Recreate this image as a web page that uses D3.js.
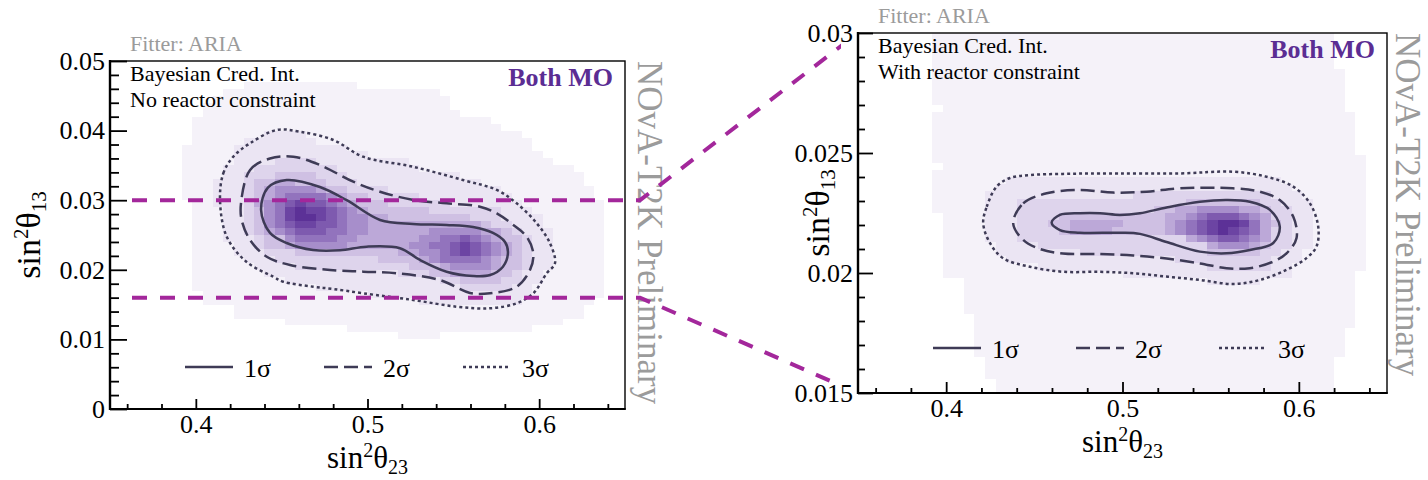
<!DOCTYPE html>
<html>
<head>
<meta charset="utf-8">
<script src="https://cdn.jsdelivr.net/npm/d3@7"></script>
<style>
  html, body { margin: 0; padding: 0; background: #fff; overflow: hidden; }
  svg { display: block; }
  text { font-family: "Liberation Serif", "Times New Roman", serif; }
</style>
</head>
<body>
<svg id="chart" width="1428" height="480"></svg>
<script>
// ---------------- axis values ----------------
const theta23Range = [0.35, 0.65];
const theta23Ticks = [0.4, 0.5, 0.6];
const theta23TickLabels = ["0.4", "0.5", "0.6"];

const theta13RangeFree = [0, 0.05];
const theta13TicksFree = [0, 0.01, 0.02, 0.03, 0.04, 0.05];
const theta13TickLabelsFree = ["0", "0.01", "0.02", "0.03", "0.04", "0.05"];

const theta13RangeReactor = [0.015, 0.03];
const theta13TicksReactor = [0.015, 0.02, 0.025, 0.03];
const theta13TickLabelsReactor = ["0.015", "0.02", "0.025", "0.03"];

// reactor sin^2(theta13) window marked on the unconstrained panel
const reactorBand = [0.016, 0.03];

// histogram binning
const binW23 = 0.006;
const binW13Free = 0.001;
const binW13Reactor = 0.0003;

// posterior density per bin, 0 = lowest populated ... 9 = highest, "." = empty.
// one string per sin^2(theta13) bin, top row first; one character per sin^2(theta23) bin
const densityFree = [
  ".......... .......... .......... .......... ..........",
  ".......... .......... .......... .......... ..........",
  ".......... .......... .......... .......... ..........",
  ".......... ...0000000 0000...... .......... ..........",
  ".......... .000000000 0000000000 00........ ..........",
  ".......... 0000000000 0000000000 000....... ..........",
  ".........0 0000000000 0000000000 000....... ..........",
  ".........0 0000000000 0000000000 0000...... ..........",
  "........00 0000000000 0000000000 0000000... ..........",
  "........00 0000000000 0000000000 00000000.. ..........",
  "........00 0000011110 0000000000 0000000000 ..........",
  "........00 0001111111 0000000000 0000000000 0.........",
  ".......000 0011111111 1110000000 0000000000 0.........",
  ".......000 0011111111 1111100000 0000000000 00........",
  ".......000 0011112222 1111111110 0000000000 000.......",
  ".......000 0111222222 2211111111 0000000000 00000.....",
  ".......000 0112223333 2221111111 1111000000 000000....",
  ".......000 1112334433 3222111111 1111110000 000000....",
  ".......000 1112345555 4332222111 1111111100 0000000...",
  ".......000 1112345666 6543322222 1111111110 0000000...",
  "........00 1112456787 7654333222 2221111111 00000000..",
  "........00 0112356898 8765433333 3222222211 10000000..",
  "........00 0112356899 8765544333 3333322211 11000000..",
  "........00 0112356788 7765544444 4444443221 11000000..",
  "........00 0112345677 7665544444 4555554432 11100000..",
  "........00 0111233566 6655444444 5566765433 21100000..",
  "........00 0011233455 5554444445 5667876543 21100000..",
  "........00 0011122233 3333333344 5567876543 21100000..",
  "........00 0001112222 2222223333 4566665433 21100000..",
  "........00 0000111122 2222222223 3345555433 21100000..",
  "........00 0000011111 1111111122 2334444332 11000000..",
  "........00 0000000111 1111111111 1122333322 11000000..",
  "........00 0000000000 1111111111 1111222221 10000000..",
  ".........0 0000000000 0000011111 1111111111 10000000..",
  ".........0 0000000000 0000000000 1111111111 0000000...",
  ".......... ..00000000 0000000000 0000000000 000000....",
  ".......... ..00000000 0000000000 0000000000 000000....",
  ".......... .......000 0000000000 0000000000 0000......",
  ".......... .......... ...0000000 0000000000 0.........",
  ".......... .......... ........00 00........ ..........",
  ".......... .......... .......... .......... ..........",
  ".......... .......... .......... .......... ..........",
  ".......... .......... .......... .......... ..........",
  ".......... .......... .......... .......... ..........",
  ".......... .......... .......... .......... ..........",
  ".......... .......... .......... .......... ..........",
  ".......... .......... .......... .......... ..........",
  ".......... .......... .......... .......... ..........",
  ".......... .......... .......... .......... ..........",
  ".......... .......... .......... .......... .........."
];

const densityReactor = [
  ".......000 0000000000 0000000000 0000000000 00000.....",
  ".......000 0000000000 0000000000 0000000000 00000.....",
  ".......000 0000000000 0000000000 0000000000 00000.....",
  ".......000 0000000000 0000000000 0000000000 00000.....",
  ".......000 0000000000 0000000000 0000000000 00000.....",
  ".......000 0000000000 0000000000 0000000000 000000....",
  ".......000 0000000000 0000000000 0000000000 000000....",
  ".......000 0000000000 0000000000 0000000000 000000....",
  ".......000 0000000000 0000000000 0000000000 000000....",
  ".......000 0000000000 0000000000 0000000000 000000....",
  "........00 0000000000 0000000000 0000000000 000000....",
  ".......000 0000000000 0000000000 0000000000 0000000...",
  ".......000 0000000000 0000000000 0000000000 0000000...",
  ".......000 0000000000 0000000000 0000000000 0000000...",
  ".......000 0000000000 0000000000 0000000000 0000000...",
  ".......000 0000000000 0000000000 0000000000 0000000...",
  ".......000 0000000000 0000000000 0000000000 0000000...",
  ".......000 0000000000 0000000000 0000000000 00000000..",
  "........00 0000000000 0000000000 0000000000 00000000..",
  ".......000 0000000000 0000000000 0000000000 00000000..",
  ".......000 0000111111 1111111111 1111111111 00000000..",
  ".......000 0001111111 1111111111 1111111111 10000000..",
  ".......000 0011111111 1111112222 2222222221 11000000..",
  ".......000 0011122222 2222222222 2333333322 11100000..",
  ".......000 0011122222 2222222233 4455554432 21100000..",
  "........00 0011122223 3333333334 4567776542 21100000..",
  "........00 0011122233 4444433334 5678998643 21100000..",
  "........00 0011122223 4444333334 5678987642 21100000..",
  "........00 0011122222 2222222222 2456776542 21100000..",
  "........00 0001111222 2222222222 2224555432 21100000..",
  "........00 0001111111 1222222222 2223333322 11000000..",
  "........00 0000111111 1111111111 2222222221 11000000..",
  "........00 0000000111 1111111111 1112222221 10000000..",
  "........00 0000000000 0000011111 1111111111 1000000...",
  ".......... 0000000000 0000000000 0001111100 0000000...",
  ".......... 0000000000 0000000000 0000000000 0000000...",
  ".......... 0000000000 0000000000 0000000000 0000000...",
  ".......... 0000000000 0000000000 0000000000 0000000...",
  ".......... 0000000000 0000000000 0000000000 0000000...",
  ".......... .000000000 0000000000 0000000000 0000000...",
  ".......... .000000000 0000000000 0000000000 0000000...",
  ".......... .000000000 0000000000 0000000000 000000....",
  ".......... .000000000 0000000000 0000000000 000000....",
  ".......... .000000000 0000000000 0000000000 000000....",
  ".......... .000000000 0000000000 0000000000 000000....",
  ".......... ..00000000 0000000000 0000000000 00000.....",
  ".......... ..00000000 0000000000 0000000000 00000.....",
  ".......... ..00000000 0000000000 0000000000 00000.....",
  ".......... ...0000000 0000000000 0000000000 00000.....",
  ".......... ...0000000 0000000000 0000000000 00000....."
];

// credible-region boundaries, [sin^2(theta23), sin^2(theta13)]
const free1sigma = [[0.438,0.0286],[0.4432,0.0253],[0.4529,0.02385],[0.4683,0.02284],[0.484,0.0228],[0.4995,0.02332],[0.5189,0.0231],[0.5306,0.02141],[0.5461,0.01973],[0.5615,0.01911],[0.5714,0.01925],[0.5789,0.02045],[0.5818,0.02241],[0.5801,0.0240],[0.5731,0.0253],[0.5615,0.02615],[0.5461,0.02644],[0.5265,0.02658],[0.5073,0.02716],[0.4879,0.0300],[0.4723,0.0319],[0.4529,0.0329],[0.442,0.0318]];
const free2sigma = [[0.4263,0.02955],[0.4316,0.03434],[0.4432,0.0360],[0.4568,0.03625],[0.4723,0.03506],[0.4917,0.03266],[0.5073,0.03122],[0.5267,0.03003],[0.5461,0.02955],[0.5655,0.02907],[0.5753,0.02812],[0.5849,0.02644],[0.5927,0.02476],[0.5966,0.02237],[0.5947,0.0200],[0.5869,0.01757],[0.5714,0.01662],[0.5597,0.01667],[0.5422,0.01853],[0.517,0.0195],[0.4976,0.01973],[0.4782,0.01997],[0.4549,0.02069],[0.4413,0.02188],[0.4316,0.02428],[0.4267,0.02716]];
const free3sigma = [[0.4141,0.0300],[0.416,0.03387],[0.4218,0.03625],[0.4316,0.03818],[0.4471,0.04009],[0.4607,0.03984],[0.4801,0.03865],[0.4974,0.03625],[0.5265,0.03481],[0.5556,0.0329],[0.5753,0.03147],[0.5869,0.02955],[0.5986,0.02668],[0.6063,0.02381],[0.6092,0.02093],[0.6044,0.0195],[0.5966,0.01662],[0.5869,0.01519],[0.5714,0.01447],[0.552,0.0147],[0.5267,0.01566],[0.4976,0.01662],[0.4801,0.01724],[0.4684,0.01757],[0.4509,0.01829],[0.4451,0.01901],[0.4296,0.02112],[0.418,0.02476]];

const reactor1sigma = [[0.4598,0.0221],[0.4645,0.02242],[0.4758,0.02249],[0.4872,0.02249],[0.4985,0.02242],[0.5099,0.02249],[0.525,0.02273],[0.5439,0.02297],[0.559,0.02304],[0.5722,0.02297],[0.5836,0.02263],[0.5892,0.02193],[0.5855,0.02125],[0.5722,0.02096],[0.559,0.02082],[0.5439,0.02089],[0.525,0.02129],[0.5099,0.02163],[0.4985,0.02168],[0.4758,0.02168],[0.4645,0.02179]];
const reactor2sigma = [[0.438,0.02207],[0.4437,0.0229],[0.457,0.02332],[0.4759,0.02346],[0.4947,0.02335],[0.5137,0.02339],[0.5325,0.02353],[0.5626,0.02353],[0.5779,0.02339],[0.5892,0.02304],[0.5968,0.02235],[0.5987,0.02146],[0.593,0.02082],[0.5854,0.02047],[0.5722,0.0202],[0.559,0.0202],[0.5439,0.0204],[0.525,0.0206],[0.5061,0.02073],[0.4872,0.02079],[0.4662,0.02081],[0.4532,0.021],[0.4437,0.02138]];
const reactor3sigma = [[0.421,0.02207],[0.423,0.02276],[0.4286,0.0236],[0.4362,0.02396],[0.4475,0.02408],[0.4664,0.02413],[0.4872,0.02415],[0.5325,0.02415],[0.5628,0.02422],[0.5817,0.02401],[0.5968,0.0236],[0.6063,0.0229],[0.611,0.02193],[0.61,0.0211],[0.6043,0.02062],[0.593,0.02013],[0.5779,0.01971],[0.5628,0.01954],[0.5439,0.01971],[0.525,0.01985],[0.5061,0.01999],[0.4872,0.02005],[0.4664,0.02005],[0.4475,0.02026],[0.4324,0.02061],[0.4249,0.02124]];

const sigmaLabels = ["1σ", "2σ", "3σ"];

// ---------------- styling ----------------
const densityPalette = ["#f5f2f9","#ebe5f3","#ded4ec","#cfc0e3","#bca8d8","#a78ecb","#9273bd","#7e5aaf","#6c44a3","#5c3197"];
const contourColor = "#3e3b56";
const contourDash = [null, "14,6", "3,3"];
const bandColor = "#a3279b";
const greyText = "#9b9b9b";
const moColor = "#5b2d93";

const colour = d3.scaleLinear().domain(d3.range(densityPalette.length)).range(densityPalette);

const panels = [
  {
    frame: { x0: 110, x1: 625, y0: 61, y1: 409 },
    yDomain: theta13RangeFree, yTicks: theta13TicksFree, yTickLabels: theta13TickLabelsFree,
    yMinorStep: 0.002, binH: binW13Free, density: densityFree,
    contours: [free1sigma, free2sigma, free3sigma],
    note: "No reactor constraint",
    yMajor: 17, yMinor: 9, xMajor: 10, xMinor: 5,
    yTitleX: 40, labelDx: 13, legendDy: 42, legendStep: 139
  },
  {
    frame: { x0: 858, x1: 1387, y0: 33, y1: 393 },
    yDomain: theta13RangeReactor, yTicks: theta13TicksReactor, yTickLabels: theta13TickLabelsReactor,
    yMinorStep: 0.001, binH: binW13Reactor, density: densityReactor,
    contours: [reactor1sigma, reactor2sigma, reactor3sigma],
    note: "With reactor constraint",
    yMajor: 15, yMinor: 7, xMajor: 11, xMinor: 5,
    yTitleX: 829, labelDx: 9, legendDy: 45, legendStep: 143
  }
];

const svg = d3.select("#chart");
const defs = svg.append("defs");

// "sin²θ" with a subscript, built from tspans
function thetaTitle(sel, sub, size) {
  const small = Math.round(size * 0.63);
  sel.append("tspan").text("sin");
  sel.append("tspan").attr("font-size", small).attr("dy", -size * 0.36).text("2");
  sel.append("tspan").attr("dy", size * 0.36).text("θ");
  sel.append("tspan").attr("font-size", small).attr("dy", size * 0.19).text(sub);
}

panels.forEach((p, pi) => {
  const f = p.frame;
  p.x = d3.scaleLinear().domain(theta23Range).range([f.x0, f.x1]);
  p.y = d3.scaleLinear().domain(p.yDomain).range([f.y1, f.y0]);
  const x = p.x, y = p.y;

  const clipId = "frame-clip-" + pi;
  defs.append("clipPath").attr("id", clipId)
    .append("rect").attr("x", f.x0).attr("y", f.y0)
    .attr("width", f.x1 - f.x0).attr("height", f.y1 - f.y0);

  const g = svg.append("g");
  const plot = g.append("g").attr("clip-path", `url(#${clipId})`);

  // 2D posterior histogram
  const nRows = p.density.length;
  const cells = [];
  p.density.forEach((row, r) => {
    const codes = row.replace(/ /g, "");
    const j = nRows - 1 - r;
    for (let i = 0; i < codes.length; i++) {
      if (codes[i] === ".") continue;
      cells.push({
        x0: theta23Range[0] + i * binW23, x1: theta23Range[0] + (i + 1) * binW23,
        y0: p.yDomain[0] + j * p.binH, y1: p.yDomain[0] + (j + 1) * p.binH,
        v: +codes[i]
      });
    }
  });
  plot.append("g").selectAll("rect").data(cells).join("rect")
    .attr("x", d => Math.round(x(d.x0)))
    .attr("y", d => Math.round(y(d.y1)))
    .attr("width", d => Math.round(x(d.x1)) - Math.round(x(d.x0)))
    .attr("height", d => Math.round(y(d.y0)) - Math.round(y(d.y1)))
    .attr("fill", d => colour(d.v))
    .attr("shape-rendering", "crispEdges");

  // credible-region contours
  const line = d3.line().x(d => x(d[0])).y(d => y(d[1])).curve(d3.curveCatmullRomClosed.alpha(0.5));
  plot.append("g").selectAll("path").data(p.contours).join("path")
    .attr("d", d => line(d))
    .attr("fill", "none")
    .attr("stroke", contourColor)
    .attr("stroke-width", 2.5)
    .attr("stroke-dasharray", (d, k) => contourDash[k]);

  // frame
  g.append("rect").attr("x", f.x0).attr("y", f.y0)
    .attr("width", f.x1 - f.x0).attr("height", f.y1 - f.y0)
    .attr("fill", "none").attr("stroke", "#000").attr("stroke-width", 1.4);

  // x axis: minor then major ticks
  const xMinorTicks = d3.range(0.36, 0.649, 0.02).filter(v => !theta23Ticks.some(t => Math.abs(t - v) < 1e-6));
  g.append("g").attr("transform", `translate(0,${f.y1})`)
    .call(d3.axisBottom(x).tickValues(xMinorTicks).tickFormat("").tickSize(-p.xMinor).tickSizeOuter(0))
    .call(a => a.select(".domain").remove());
  g.append("g").attr("transform", `translate(0,${f.y1})`)
    .call(d3.axisBottom(x).tickValues(theta23Ticks).tickFormat((d, i) => theta23TickLabels[i])
      .tickSize(-p.xMajor).tickPadding(5.5).tickSizeOuter(0))
    .call(a => a.select(".domain").remove())
    .call(a => a.selectAll("text").attr("font-family", "Liberation Serif").attr("font-size", 26).attr("fill", "#000"));

  // y axis
  const nMinor = Math.round((p.yDomain[1] - p.yDomain[0]) / p.yMinorStep);
  const yMinorTicks = d3.range(nMinor + 1).map(k => p.yDomain[0] + k * p.yMinorStep)
    .filter(v => !p.yTicks.some(t => Math.abs(t - v) < 1e-9));
  g.append("g").attr("transform", `translate(${f.x0},0)`)
    .call(d3.axisLeft(y).tickValues(yMinorTicks).tickFormat("").tickSize(-p.yMinor).tickSizeOuter(0))
    .call(a => a.select(".domain").remove());
  g.append("g").attr("transform", `translate(${f.x0},0)`)
    .call(d3.axisLeft(y).tickValues(p.yTicks).tickFormat((d, i) => p.yTickLabels[i])
      .tickSize(-p.yMajor).tickPadding(5).tickSizeOuter(0))
    .call(a => a.select(".domain").remove())
    .call(a => a.selectAll("text").attr("font-family", "Liberation Serif").attr("font-size", 26).attr("fill", "#000"));

  g.selectAll(".tick line").attr("stroke", "#000").attr("stroke-width", 1.8);

  // heavier axis lines
  g.append("line").attr("x1", f.x0).attr("x2", f.x0).attr("y1", f.y0 - 1).attr("y2", f.y1 + 1)
    .attr("stroke", "#000").attr("stroke-width", 2.4);
  g.append("line").attr("x1", f.x0 - 1).attr("x2", f.x1 + 0.7).attr("y1", f.y1).attr("y2", f.y1)
    .attr("stroke", "#000").attr("stroke-width", 2.2);

  // axis titles
  g.append("text").attr("x", x(0.5)).attr("y", f.y1 + 59)
    .attr("text-anchor", "middle").attr("font-size", 31).attr("fill", "#000")
    .call(t => thetaTitle(t, "23", 31));
  g.append("text")
    .attr("transform", `translate(${p.yTitleX},${(f.y0 + f.y1) / 2}) rotate(-90)`)
    .attr("text-anchor", "middle").attr("font-size", 34).attr("fill", "#000")
    .call(t => thetaTitle(t, "13", 34));

  // annotations
  g.append("text").attr("x", f.x0 + 20).attr("y", f.y0 - 10)
    .attr("font-size", 22).attr("fill", greyText).text("Fitter: ARIA");
  g.append("text").attr("x", f.x0 + 20).attr("y", f.y0 + 20)
    .attr("font-size", 22).attr("fill", "#000").text("Bayesian Cred. Int.");
  g.append("text").attr("x", f.x0 + 20).attr("y", f.y0 + 45.5)
    .attr("font-size", 22).attr("fill", "#000").text(p.note);
  g.append("text").attr("x", f.x1 - 12).attr("y", f.y0 + 24.5)
    .attr("text-anchor", "end").attr("font-size", 26).attr("font-weight", "bold")
    .attr("fill", moColor).text("Both MO");
  g.append("text")
    .attr("transform", `translate(${f.x1 + p.labelDx},${f.y0}) rotate(90)`)
    .attr("font-size", 35).attr("fill", greyText).text("NOvA-T2K Preliminary");

  // legend
  const ly = f.y1 - p.legendDy;
  const leg = g.append("g").selectAll("g").data(sigmaLabels).join("g")
    .attr("transform", (d, k) => `translate(${f.x0 + 75 + k * p.legendStep},${ly})`);
  leg.append("line").attr("x1", 0).attr("x2", 48).attr("y1", 0).attr("y2", 0)
    .attr("stroke", contourColor).attr("stroke-width", 2.5)
    .attr("stroke-dasharray", (d, k) => contourDash[k]);
  leg.append("text").attr("x", 59).attr("y", 10).attr("font-size", 26).attr("fill", "#000")
    .text(d => d);
});

// reactor window: horizontal lines on the unconstrained panel, fanning out to the zoomed panel
const L = panels[0], R = panels[1];
defs.append("clipPath").attr("id", "band-clip")
  .append("rect").attr("x", 0).attr("y", 0).attr("width", 841).attr("height", 480);
const bandPath = (v, targetY) => {
  const yy = L.y(v);
  return `M${L.frame.x0 + 22},${yy}H${L.frame.x1 + 15}L${R.frame.x0},${targetY}`;
};
svg.append("g").attr("clip-path", "url(#band-clip)")
  .selectAll("path")
  .data([{ v: reactorBand[1], t: R.y(R.yDomain[1]) }, { v: reactorBand[0], t: R.y(R.yDomain[0]) }])
  .join("path")
  .attr("d", d => bandPath(d.v, d.t))
  .attr("fill", "none")
  .attr("stroke", bandColor)
  .attr("stroke-width", 4)
  .attr("stroke-dasharray", "15,13");
</script>
</body>
</html>
